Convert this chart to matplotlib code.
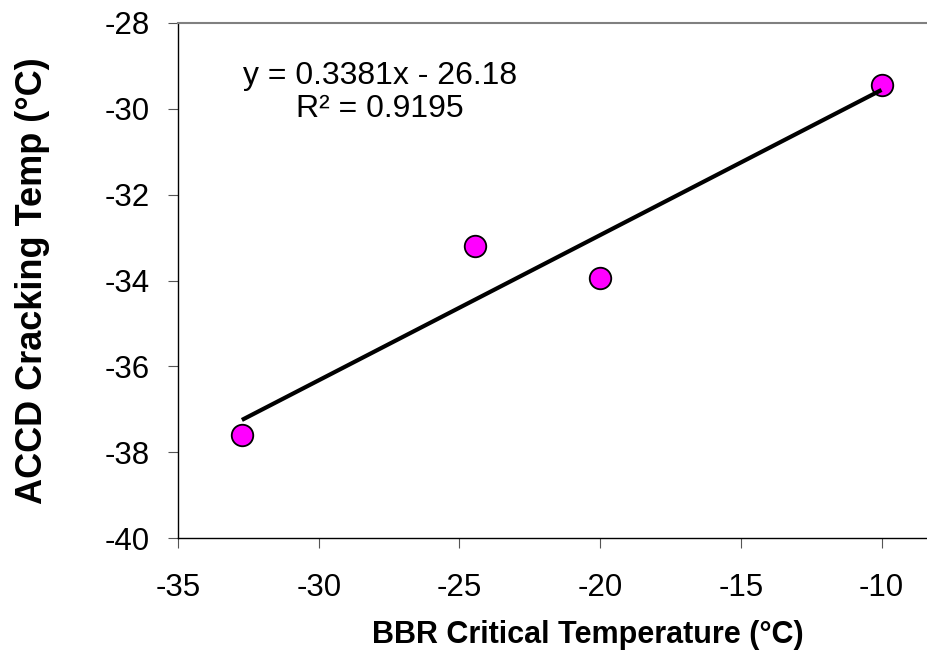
import numpy as np
import matplotlib
matplotlib.use("Agg")
import matplotlib.pyplot as plt

plt.rcParams["font.family"] = ["Liberation Sans", "DejaVu Sans"]

# data
bbr_temp = [-32.73, -24.45, -20.0, -10.0]
accd_temp = [-37.6, -33.2, -33.95, -29.45]
x_ticks = [-35, -30, -25, -20, -15, -10]
y_ticks = [-40, -38, -36, -34, -32, -30, -28]
eq_text = "y = 0.3381x - 26.18\nR² = 0.9195"

fig = plt.figure(figsize=(9.27, 6.5), dpi=100)
ax = fig.add_axes([178 / 927, 1 - 538 / 650, 1 - 178 / 927, (538 - 23) / 650])

ax.scatter(bbr_temp, accd_temp, s=15.5 ** 2, c="#ff00ff", edgecolors="black",
           linewidths=1.3, zorder=3, clip_on=False)

# linear trendline over the data range
slope, intercept = np.polyfit(bbr_temp, accd_temp, 1)
xs = np.array([min(bbr_temp), max(bbr_temp)])
ax.plot(xs, slope * xs + intercept, color="black", linewidth=3, zorder=4,
        solid_capstyle="butt")

ax.text(-27.82, -29.62, eq_text, ha="center", va="center", fontsize=23,
        linespacing=1.12)

ax.set_xlim(-35, -35 + (927 - 178) / 28.14)
ax.set_ylim(-40, -28)
ax.set_xticks(x_ticks)
ax.set_yticks(y_ticks)
ax.set_xticklabels([str(v) for v in x_ticks])
ax.set_yticklabels([str(v) for v in y_ticks])

ax.spines["right"].set_visible(False)
ax.spines["top"].set_color("#808080")
ax.spines["top"].set_linewidth(1.5)
ax.spines["left"].set_linewidth(1.0)
ax.spines["bottom"].set_linewidth(1.0)
ax.tick_params(axis="both", direction="out", length=7, width=0.8,
               color="#555555", labelsize=22.5)
ax.tick_params(axis="y", pad=13)
ax.tick_params(axis="x", pad=18)

ax.set_xlabel("BBR Critical Temperature (°C)", fontsize=22, fontweight="bold")
ax.set_ylabel("ACCD Cracking Temp (°C)", fontsize=26, fontweight="bold")
ax.xaxis.set_label_coords((588 - 178) / 749, -0.160)
ax.yaxis.set_label_coords(-(178 - 50) / 749, 0.5)

fig.savefig("out.png", dpi=100)
